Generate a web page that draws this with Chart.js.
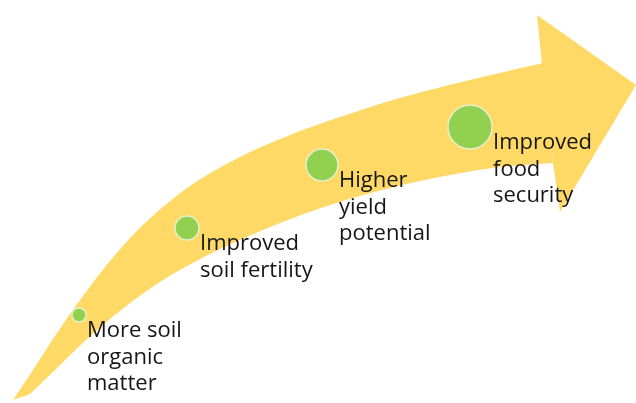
<!DOCTYPE html>
<html lang="en">
<head>
    <meta charset="UTF-8">
    <title>Soil organic matter pathway</title>
    <script src="https://cdn.jsdelivr.net/npm/chart.js"></script>
    <style>
        html, body {
            margin: 0;
            padding: 0;
            background: #ffffff;
        }
        .chart-container {
            position: relative;
            width: 636px;
            height: 403px;
        }
    </style>
</head>
<body>
    <div class="chart-container">
        <canvas id="arrowChart"></canvas>
    </div>

    <script>
        // arrow shaft outline: upper edge tail -> head, then lower edge back
        // (corner points repeated so the curve keeps a sharp corner there)
        const shaftX = [13, 33, 55, 80, 110, 145, 190, 240, 290, 340, 400, 470, 543, 543,
                        553, 553, 500, 450, 390, 330, 270, 210, 160, 120, 87, 55, 30];
        const shaftY = [3, 33, 67, 103, 142, 180, 217, 246, 268, 286, 305, 323, 340, 340,
                        240, 240, 236, 228, 215, 198, 176, 149, 121, 92, 64, 33, 9];

        // arrow head outline
        const headX = [537, 636, 560, 553, 542];
        const headY = [388, 318, 191, 240, 339];

        // steps along the arrow
        const stepX = [79, 187, 322, 470];
        const stepY = [88, 175, 238, 276];
        const stepSize = [7, 12, 16, 22];
        const stepLabels = [
            ['More soil', 'organic', 'matter'],
            ['Improved', 'soil fertility'],
            ['Higher', 'yield', 'potential'],
            ['Improved', 'food', 'security']
        ];

        const toPoints = (xs, ys) => xs.map((x, i) => ({ x: x, y: ys[i] }));

        const arrowFill = {
            id: 'arrowFill',
            beforeDatasetsDraw(chart) {
                const ctx = chart.ctx;
                [0, 1].forEach(i => {
                    const line = chart.getDatasetMeta(i).dataset;
                    line.updateControlPoints(chart.chartArea, 'x');
                    ctx.save();
                    ctx.beginPath();
                    line.path(ctx);
                    ctx.closePath();
                    ctx.fillStyle = chart.data.datasets[i].backgroundColor;
                    ctx.fill();
                    ctx.restore();
                });
            }
        };

        const stepText = {
            id: 'stepText',
            afterDatasetsDraw(chart) {
                const ctx = chart.ctx;
                const meta = chart.getDatasetMeta(2);
                ctx.save();
                ctx.font = '22px "Open Sans", sans-serif';
                ctx.fillStyle = '#161616';
                ctx.textBaseline = 'alphabetic';
                meta.data.forEach((pt, i) => {
                    const x = pt.x + stepSize[i] + 1;
                    stepLabels[i].forEach((txt, j) => {
                        ctx.fillText(txt, x, pt.y + 22 + j * 26.5);
                    });
                });
                ctx.restore();
            }
        };

        new Chart(document.getElementById('arrowChart'), {
            type: 'bubble',
            data: {
                datasets: [
                    {
                        type: 'line',
                        data: toPoints(shaftX, shaftY),
                        backgroundColor: '#FFD966',
                        borderWidth: 0,
                        showLine: false,
                        pointRadius: 0,
                        tension: 0.35
                    },
                    {
                        type: 'line',
                        data: toPoints(headX, headY),
                        backgroundColor: '#FFD966',
                        borderWidth: 0,
                        showLine: false,
                        pointRadius: 0,
                        tension: 0
                    },
                    {
                        data: stepX.map((x, i) => ({ x: x, y: stepY[i], r: stepSize[i] })),
                        backgroundColor: '#92D050',
                        borderColor: '#E4F0CF',
                        borderWidth: 1.5
                    }
                ]
            },
            options: {
                responsive: true,
                maintainAspectRatio: false,
                animation: false,
                events: [],
                layout: { padding: 0, autoPadding: false },
                scales: {
                    x: { type: 'linear', min: 0, max: 636, display: false },
                    y: { type: 'linear', min: 0, max: 403, display: false }
                },
                plugins: {
                    legend: { display: false },
                    tooltip: { enabled: false }
                }
            },
            plugins: [arrowFill, stepText]
        });
    </script>
</body>
</html>
